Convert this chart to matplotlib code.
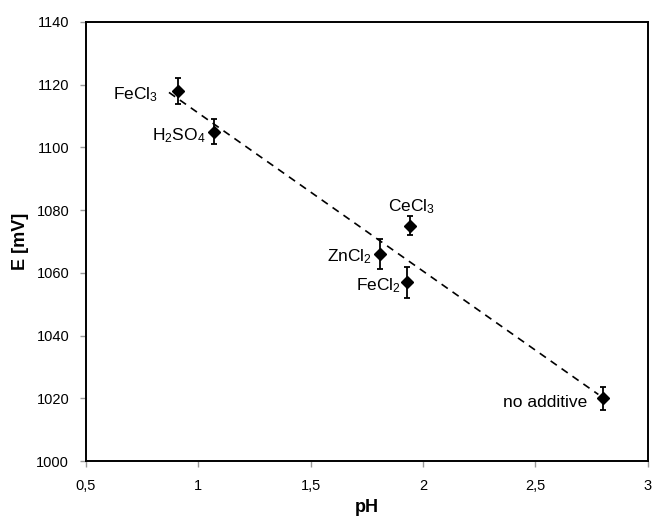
import numpy as np
import matplotlib
matplotlib.use('Agg')
import matplotlib.pyplot as plt

# --- data ---
ph = [0.91, 1.07, 1.81, 1.93, 1.94, 2.80]
e_mv = [1118, 1105, 1066, 1057, 1075, 1020]
e_err = [4, 4, 4.8, 5, 3, 3.6]
labels = ['FeCl$_3$', 'H$_2$SO$_4$', 'ZnCl$_2$', 'FeCl$_2$', 'CeCl$_3$', 'no additive']

x_ticks = [0.5, 1.0, 1.5, 2.0, 2.5, 3.0]
x_ticklabels = ['0,5', '1', '1,5', '2', '2,5', '3']
y_ticks = [1000, 1020, 1040, 1060, 1080, 1100, 1120, 1140]

# label offsets in pixels (dx, dy) and alignment
label_pos = [(-20, -4, 'right'), (-8, -4, 'right'), (-8, -3, 'right'),
             (-6, -3, 'right'), (2, 19, 'center'), (-16, -4, 'right')]

plt.rcParams['font.family'] = ['Liberation Sans', 'DejaVu Sans']
plt.rcParams['mathtext.default'] = 'regular'

fig = plt.figure(figsize=(6.55, 5.23), dpi=100)
ax = fig.add_axes([0.131, 0.1185, 0.858, 0.8395])

# linear trendline through all points
k, b = np.polyfit(ph, e_mv, 1)
xl = np.array([min(ph) - 0.04, max(ph) - 0.02])
ax.plot(xl, k * xl + b, color='black', linestyle=(0, (4.5, 3.5)), linewidth=1.2, zorder=1)

ax.errorbar(ph, e_mv, yerr=e_err, fmt='D', color='black', markersize=6,
            ecolor='black', elinewidth=1.3, capsize=2.5, capthick=1.3, zorder=3)

for x, y, lab, (dx, dy, ha) in zip(ph, e_mv, labels, label_pos):
    ax.annotate(lab, (x, y), xytext=(dx, dy), textcoords='offset pixels',
                ha=ha, va='center', fontsize=12.5)

ax.set_xlim(0.5, 3.0)
ax.set_ylim(1000, 1140)
ax.set_xticks(x_ticks)
ax.set_xticklabels(x_ticklabels)
ax.set_yticks(y_ticks)
ax.tick_params(axis='both', direction='out', length=4, width=1, color='#999999',
               labelsize=10.5)
ax.tick_params(axis='x', pad=9)
ax.tick_params(axis='y', pad=8)

for s in ax.spines.values():
    s.set_linewidth(1.4)
    s.set_color('black')

ax.set_xlabel('pH', fontsize=13, fontweight='bold', labelpad=4)
ax.set_ylabel('E [mV]', fontsize=13, fontweight='bold', labelpad=5)

fig.savefig('out.png', dpi=100)
